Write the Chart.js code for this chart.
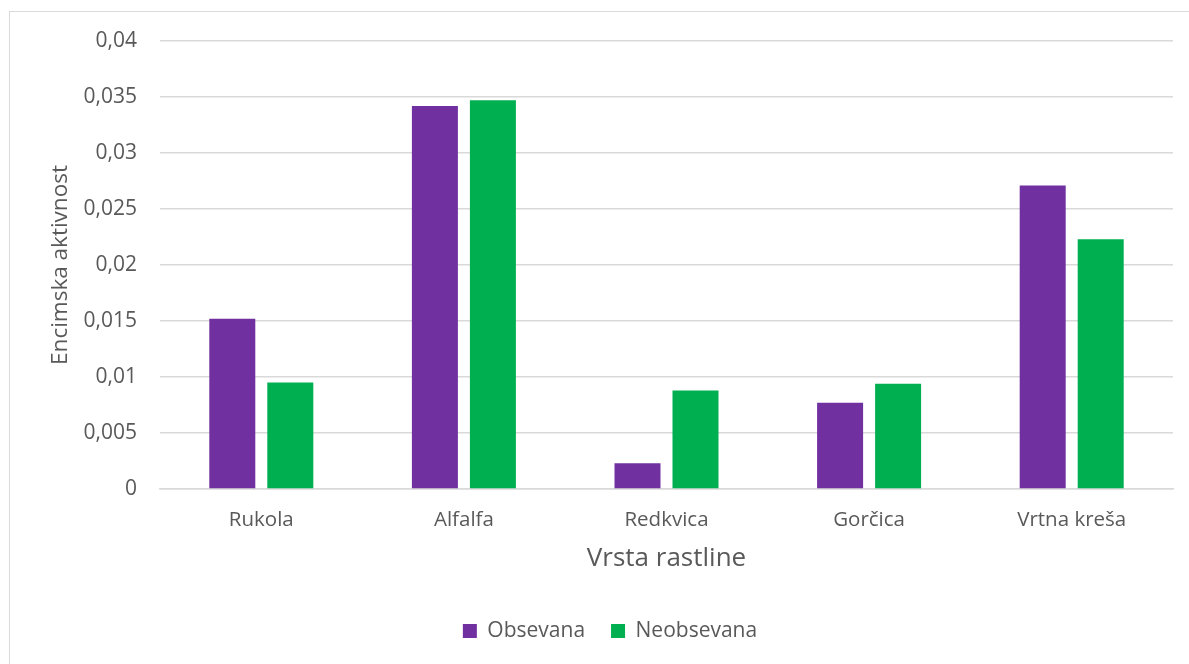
<!DOCTYPE html>
<html>
<head>
<meta charset="utf-8">
<script src="https://cdn.jsdelivr.net/npm/chart.js@4.4.0/dist/chart.umd.min.js"></script>
<style>
  html, body { margin: 0; padding: 0; background: #ffffff; overflow: hidden; }
  #wrap { position: relative; width: 1189px; height: 664px; }
  #frame {
    position: absolute; left: 9px; top: 11px; width: 1200px; height: 700px;
    border: 1.5px solid #d9d9d9; box-sizing: border-box; pointer-events: none;
  }
  canvas { position: absolute; left: 0; top: 0; }
</style>
</head>
<body>
<div id="wrap">
  <canvas id="chart" width="1189" height="664"></canvas>
  <div id="frame"></div>
</div>
<script>
// Plant species on the category axis
const categories = ['Rukola', 'Alfalfa', 'Redkvica', 'Gorčica', 'Vrtna kreša'];
// Enzyme activity of irradiated and non-irradiated samples
const obsevana = [0.0152, 0.0342, 0.0023, 0.0077, 0.0271];
const neobsevana = [0.0095, 0.0347, 0.0088, 0.0094, 0.0223];
const seriesNames = ['Obsevana', 'Neobsevana'];
const yAxisTitle = 'Encimska aktivnost';
const xAxisTitle = 'Vrsta rastline';
const yMax = 0.04;
const yStep = 0.005;

const FONT = '"Open Sans", "DejaVu Sans", sans-serif';
const TEXT = '#595959';
const GRID = '#d9d9d9';

// decimal comma, as used in Slovenian
function fmt(v) {
  return Number(v.toFixed(3)).toString().replace('.', ',');
}

new Chart(document.getElementById('chart'), {
  type: 'bar',
  data: {
    labels: categories,
    datasets: [
      { label: seriesNames[0], data: obsevana, backgroundColor: '#7030A0' },
      { label: seriesNames[1], data: neobsevana, backgroundColor: '#00B050' }
    ]
  },
  options: {
    responsive: false,
    animation: false,
    events: [],
    layout: { padding: { top: 41, right: 16, bottom: 12.5, left: 47 } },
    datasets: {
      bar: { categoryPercentage: 0.5726, barPercentage: 0.793 }
    },
    plugins: {
      tooltip: { enabled: false },
      legend: {
        position: 'bottom',
        labels: {
          font: { family: FONT, size: 21 },
          color: TEXT,
          boxWidth: 14,
          boxHeight: 14,
          padding: 26
        }
      }
    },
    scales: {
      x: {
        grid: { display: false, drawTicks: false },
        border: { display: true, color: GRID, width: 1.5 },
        ticks: {
          font: { family: FONT, size: 20.5 },
          color: TEXT,
          padding: 19,
          maxRotation: 0
        },
        title: {
          display: true,
          text: xAxisTitle,
          font: { family: FONT, size: 26 },
          color: TEXT,
          padding: { top: 0, bottom: 20 }
        },
        afterFit(scale) { scale.height = 105.5; }
      },
      y: {
        min: 0,
        max: yMax,
        grid: { color: GRID, lineWidth: 1.5, drawTicks: false },
        border: { display: false },
        ticks: {
          stepSize: yStep,
          font: { family: FONT, size: 21 },
          color: TEXT,
          padding: 23,
          callback: (v) => fmt(v)
        },
        title: {
          display: true,
          text: yAxisTitle,
          font: { family: FONT, size: 22.5 },
          color: TEXT,
          padding: { top: 0, bottom: 0 }
        },
        afterFit(scale) { scale.width = 113; }
      }
    }
  }
});
</script>
</body>
</html>
